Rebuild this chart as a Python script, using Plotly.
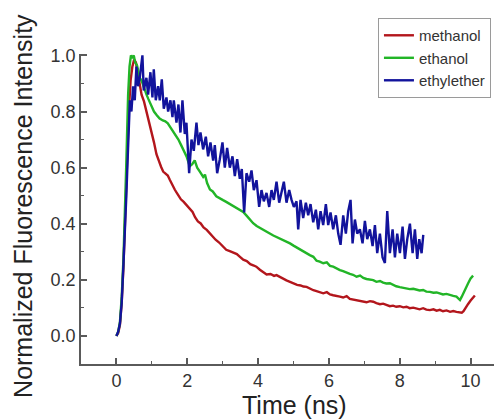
import plotly.graph_objects as go

# ---------------- data ----------------
methanol_t = [0.00, 0.05, 0.10, 0.15, 0.20, 0.25, 0.30, 0.35, 0.40, 0.45,
              0.50, 0.55, 0.60, 0.66, 0.71, 0.78, 0.85, 0.92, 0.99, 1.06,
              1.13, 1.20, 1.26, 1.32, 1.40, 1.45, 1.51, 1.58, 1.65, 1.74,
              1.82, 1.90, 1.98, 2.07, 2.15, 2.22, 2.30, 2.38, 2.46, 2.55,
              2.64, 2.72, 2.80, 2.90, 3.01, 3.10, 3.20, 3.30, 3.40, 3.48,
              3.58, 3.68, 3.78, 3.88, 3.95, 4.05, 4.15, 4.24, 4.35, 4.45,
              4.52, 4.61, 4.70, 4.80, 4.90, 5.00, 5.10, 5.20, 5.28, 5.37,
              5.47, 5.56, 5.65, 5.74, 5.84, 5.94, 6.03, 6.12, 6.22, 6.31,
              6.40, 6.50, 6.59, 6.68, 6.78, 6.88, 6.97, 7.06, 7.16, 7.25,
              7.34, 7.44, 7.53, 7.62, 7.72, 7.81, 7.90, 8.00, 8.10, 8.19,
              8.28, 8.38, 8.47, 8.56, 8.66, 8.75, 8.85, 8.95, 9.04, 9.13,
              9.22, 9.32, 9.42, 9.51, 9.60, 9.70, 9.75, 9.80, 9.86, 9.93,
              10.00, 10.06, 10.12]
methanol_y = [0.000, 0.010, 0.040, 0.120, 0.250, 0.430, 0.630, 0.800, 0.910, 0.960,
              0.985, 0.975, 0.940, 0.895, 0.860, 0.835, 0.800, 0.765, 0.730, 0.690,
              0.648, 0.622, 0.603, 0.586, 0.579, 0.572, 0.556, 0.538, 0.521, 0.503,
              0.487, 0.478, 0.466, 0.456, 0.442, 0.423, 0.408, 0.401, 0.387, 0.378,
              0.366, 0.352, 0.343, 0.333, 0.319, 0.307, 0.302, 0.296, 0.292, 0.283,
              0.272, 0.267, 0.256, 0.251, 0.247, 0.236, 0.228, 0.219, 0.221, 0.214,
              0.217, 0.210, 0.204, 0.198, 0.193, 0.188, 0.182, 0.180, 0.176, 0.175,
              0.168, 0.163, 0.160, 0.157, 0.152, 0.156, 0.148, 0.145, 0.141, 0.140,
              0.137, 0.142, 0.132, 0.130, 0.128, 0.125, 0.123, 0.120, 0.124, 0.122,
              0.117, 0.113, 0.115, 0.110, 0.106, 0.108, 0.104, 0.106, 0.102, 0.104,
              0.099, 0.101, 0.097, 0.095, 0.099, 0.094, 0.092, 0.095, 0.090, 0.093,
              0.088, 0.091, 0.086, 0.089, 0.086, 0.084, 0.083, 0.088, 0.098, 0.114,
              0.126, 0.136, 0.144]

ethanol_t = [0.00, 0.05, 0.10, 0.15, 0.20, 0.25, 0.28, 0.33, 0.37, 0.41,
             0.45, 0.49, 0.53, 0.58, 0.62, 0.66, 0.71, 0.76, 0.80, 0.85,
             0.90, 0.95, 1.00, 1.06, 1.14, 1.22, 1.31, 1.38, 1.45, 1.52,
             1.60, 1.67, 1.75, 1.82, 1.90, 1.98, 2.07, 2.14, 2.21, 2.28,
             2.36, 2.45, 2.50, 2.56, 2.64, 2.72, 2.82, 2.92, 3.01, 3.10,
             3.20, 3.30, 3.40, 3.48, 3.58, 3.68, 3.77, 3.86, 3.96, 4.05,
             4.14, 4.24, 4.33, 4.43, 4.52, 4.62, 4.71, 4.81, 4.90, 5.00,
             5.09, 5.18, 5.28, 5.37, 5.46, 5.56, 5.65, 5.74, 5.84, 5.94,
             6.03, 6.12, 6.22, 6.31, 6.40, 6.50, 6.59, 6.68, 6.78, 6.88,
             6.97, 7.06, 7.16, 7.25, 7.34, 7.44, 7.53, 7.62, 7.72, 7.81,
             7.90, 8.00, 8.10, 8.19, 8.28, 8.38, 8.47, 8.56, 8.66, 8.75,
             8.85, 8.95, 9.04, 9.13, 9.22, 9.32, 9.42, 9.51, 9.60, 9.66,
             9.70, 9.75, 9.79, 9.86, 9.93, 10.00, 10.07]
ethanol_y = [0.000, 0.015, 0.050, 0.140, 0.280, 0.470, 0.620, 0.860, 0.960, 1.000,
             0.990, 1.000, 0.975, 0.965, 0.935, 0.920, 0.910, 0.890, 0.875, 0.860,
             0.845, 0.830, 0.815, 0.800, 0.787, 0.775, 0.768, 0.765, 0.758, 0.745,
             0.732, 0.718, 0.700, 0.682, 0.662, 0.640, 0.605, 0.612, 0.626, 0.600,
             0.585, 0.567, 0.575, 0.545, 0.522, 0.515, 0.498, 0.492, 0.484, 0.478,
             0.470, 0.462, 0.455, 0.448, 0.442, 0.428, 0.413, 0.402, 0.392, 0.385,
             0.377, 0.371, 0.365, 0.358, 0.353, 0.345, 0.340, 0.336, 0.330, 0.322,
             0.315, 0.307, 0.302, 0.294, 0.288, 0.282, 0.268, 0.265, 0.259, 0.262,
             0.250, 0.247, 0.240, 0.235, 0.231, 0.225, 0.221, 0.218, 0.211, 0.215,
             0.207, 0.203, 0.201, 0.199, 0.193, 0.196, 0.190, 0.187, 0.188, 0.181,
             0.177, 0.174, 0.172, 0.170, 0.167, 0.168, 0.164, 0.162, 0.164, 0.158,
             0.157, 0.154, 0.155, 0.152, 0.148, 0.150, 0.145, 0.143, 0.140, 0.132,
             0.128, 0.140, 0.152, 0.170, 0.188, 0.205, 0.215]

ethylether_t = [0.00, 0.05, 0.10, 0.15, 0.20, 0.25, 0.28, 0.32, 0.36, 0.38,
                0.424, 0.471, 0.518, 0.565, 0.612, 0.659, 0.734, 0.772, 0.847, 0.895,
                0.960, 1.017, 1.055, 1.111, 1.177, 1.224, 1.281, 1.337, 1.412, 1.460,
                1.525, 1.582, 1.620, 1.695, 1.751, 1.808, 1.864, 1.930, 1.977, 2.053,
                2.119, 2.185, 2.260, 2.316, 2.373, 2.448, 2.524, 2.589, 2.655, 2.731,
                2.778, 2.844, 2.919, 2.994, 3.060, 3.126, 3.202, 3.277, 3.343, 3.409,
                3.484, 3.540, 3.606, 3.672, 3.748, 3.814, 3.879, 3.955, 4.030, 4.096,
                4.162, 4.237, 4.313, 4.379, 4.444, 4.520, 4.595, 4.661, 4.727, 4.802,
                4.878, 4.944, 5.009, 5.085, 5.132, 5.198, 5.273, 5.348, 5.414, 5.480,
                5.556, 5.631, 5.697, 5.763, 5.838, 5.913, 5.979, 6.045, 6.120, 6.196,
                6.262, 6.328, 6.403, 6.478, 6.544, 6.610, 6.667, 6.733, 6.798, 6.874,
                6.949, 7.015, 7.081, 7.156, 7.232, 7.298, 7.363, 7.439, 7.514, 7.580,
                7.646, 7.721, 7.797, 7.863, 7.928, 8.004, 8.079, 8.145, 8.211, 8.286,
                8.362, 8.427, 8.493, 8.550, 8.616, 8.663]
ethylether_y = [0.000, 0.015, 0.045, 0.120, 0.260, 0.380, 0.500, 0.640, 0.760, 0.840,
                0.800, 0.890, 0.840, 0.960, 0.890, 0.920, 1.000, 0.875, 0.920, 0.860,
                0.940, 0.850, 0.950, 0.840, 0.890, 0.840, 0.915, 0.810, 0.850, 0.800,
                0.840, 0.780, 0.840, 0.760, 0.825, 0.725, 0.840, 0.720, 0.760, 0.580,
                0.700, 0.660, 0.760, 0.680, 0.725, 0.665, 0.710, 0.640, 0.690, 0.625,
                0.680, 0.580, 0.630, 0.690, 0.600, 0.670, 0.600, 0.640, 0.570, 0.630,
                0.560, 0.595, 0.440, 0.580, 0.550, 0.590, 0.520, 0.555, 0.460, 0.520,
                0.480, 0.510, 0.460, 0.520, 0.485, 0.550, 0.475, 0.510, 0.550, 0.475,
                0.520, 0.485, 0.460, 0.480, 0.380, 0.485, 0.420, 0.475, 0.430, 0.470,
                0.405, 0.450, 0.380, 0.445, 0.395, 0.470, 0.395, 0.440, 0.380, 0.430,
                0.365, 0.325, 0.430, 0.365, 0.445, 0.485, 0.330, 0.415, 0.365, 0.380,
                0.330, 0.410, 0.345, 0.380, 0.320, 0.395, 0.295, 0.365, 0.280, 0.260,
                0.445, 0.295, 0.380, 0.280, 0.365, 0.295, 0.390, 0.275, 0.345, 0.400,
                0.295, 0.380, 0.275, 0.345, 0.295, 0.360]

series_names = ["methanol", "ethanol", "ethylether"]
series_colors = ["#B3161C", "#22B527", "#12139C"]

x_tickvals = [0, 2, 4, 6, 8, 10]
y_tickvals = [0.0, 0.2, 0.4, 0.6, 0.8, 1.0]
y_ticktext = ["0.0", "0.2", "0.4", "0.6", "0.8", "1.0"]

# ---------------- figure ----------------
FONT = "Liberation Sans, Arial, sans-serif"
fig = go.Figure()
for name, tt, yy, col in zip(series_names,
                             [methanol_t, ethanol_t, ethylether_t],
                             [methanol_y, ethanol_y, ethylether_y],
                             series_colors):
    fig.add_trace(go.Scatter(x=tt, y=yy, mode="lines", name=name,
                             line=dict(color=col, width=2.4)))

axis_common = dict(showline=True, linecolor="#5a5a5a", linewidth=1.6,
                   ticks="inside", ticklen=6, tickwidth=1.5, tickcolor="#5a5a5a",
                   showgrid=False, zeroline=False,
                   tickfont=dict(family=FONT, size=18, color="#333333"))

fig.update_xaxes(range=[-1, 10.66], tickvals=x_tickvals,
                 minor=dict(ticks="inside", ticklen=3, tickwidth=1.3,
                            tickcolor="#5a5a5a", dtick=1, tick0=0),
                 **axis_common)
fig.update_yaxes(range=[-0.1, 1.005], tickvals=y_tickvals, ticktext=y_ticktext,
                 minor=dict(ticks="inside", ticklen=3, tickwidth=1.3,
                            tickcolor="#5a5a5a", dtick=0.1, tick0=0),
                 **axis_common)

fig.update_layout(
    width=494, height=419,
    margin=dict(l=81, r=0, t=54, b=55, autoexpand=False),
    paper_bgcolor="white", plot_bgcolor="white",
    showlegend=True,
    legend=dict(x=0.719, y=1.116, xanchor="left", yanchor="top",
                bordercolor="#9a9a9a", borderwidth=1, bgcolor="white",
                font=dict(family=FONT, size=15, color="#333333"),
                itemwidth=30, tracegroupgap=0),
    annotations=[
        dict(text="Normalized Fluorescence Intensity", textangle=-90,
             xref="paper", yref="paper", x=-0.1404, y=0.51,
             xanchor="center", yanchor="middle", showarrow=False,
             font=dict(family=FONT, size=25, color="#222222")),
        dict(text="Time (ns)", xref="paper", yref="paper", x=0.518, y=-0.1335,
             xanchor="center", yanchor="middle", showarrow=False,
             font=dict(family=FONT, size=25, color="#222222")),
    ],
)

fig.write_html(
    "out.html",
    config={"displayModeBar": False},
    post_script="document.body.style.margin='0';document.body.style.overflow='hidden';",
)
